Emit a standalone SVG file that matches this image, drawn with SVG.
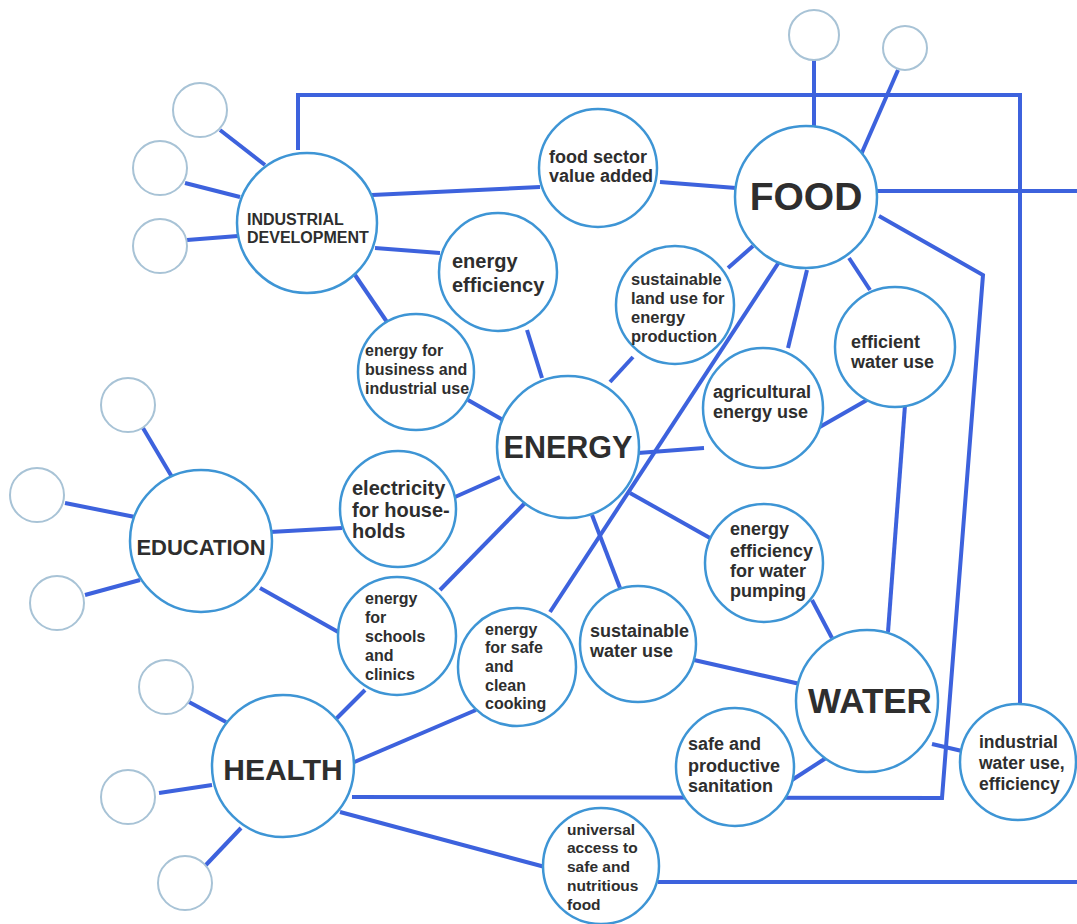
<svg xmlns="http://www.w3.org/2000/svg" width="1077" height="924" viewBox="0 0 1077 924">
<style>
.ln{stroke:#3d62dd;stroke-width:4;fill:none}
.nd{fill:#fff;stroke:#3e95d5;stroke-width:2.5}
.sm{fill:#fff;stroke:#a8c3d6;stroke-width:2}
.t{font-family:"Liberation Sans",Arial,sans-serif;font-weight:bold;fill:#2e2e2e}
.c{text-anchor:middle}
</style>
<rect width="1077" height="924" fill="#fff"/>
<g id="connectors">
<line class="ln" x1="220" y1="130" x2="265" y2="165"/>
<line class="ln" x1="185" y1="183" x2="240" y2="197"/>
<line class="ln" x1="187" y1="240" x2="238" y2="236"/>
<line class="ln" x1="814" y1="60" x2="814" y2="127"/>
<line class="ln" x1="898" y1="70" x2="860" y2="157"/>
<line class="ln" x1="143" y1="428" x2="172" y2="477"/>
<line class="ln" x1="65" y1="503" x2="135" y2="517"/>
<line class="ln" x1="85" y1="595" x2="140" y2="580"/>
<line class="ln" x1="189" y1="702" x2="226" y2="722"/>
<line class="ln" x1="159" y1="793" x2="212" y2="785"/>
<line class="ln" x1="204" y1="867" x2="241" y2="828"/>
<line class="ln" x1="372" y1="195" x2="540" y2="187"/>
<line class="ln" x1="660" y1="182" x2="736" y2="188"/>
<line class="ln" x1="375" y1="248" x2="440" y2="253"/>
<line class="ln" x1="355" y1="275" x2="387" y2="322"/>
<line class="ln" x1="527" y1="330" x2="542" y2="378"/>
<line class="ln" x1="468" y1="400" x2="503" y2="420"/>
<line class="ln" x1="633" y1="357" x2="610" y2="382"/>
<line class="ln" x1="753" y1="246" x2="728" y2="268"/>
<line class="ln" x1="807" y1="270" x2="788" y2="348"/>
<line class="ln" x1="849" y1="258" x2="870" y2="290"/>
<line class="ln" x1="867" y1="400" x2="818" y2="428"/>
<line class="ln" x1="638" y1="453" x2="704" y2="448"/>
<line class="ln" x1="455" y1="497" x2="500" y2="477"/>
<line class="ln" x1="270" y1="532" x2="342" y2="528"/>
<line class="ln" x1="260" y1="588" x2="340" y2="633"/>
<line class="ln" x1="440" y1="590" x2="525" y2="503"/>
<line class="ln" x1="365" y1="690" x2="335" y2="720"/>
<line class="ln" x1="352" y1="763" x2="476" y2="710"/>
<line class="ln" x1="340" y1="812" x2="545" y2="867"/>
<line class="ln" x1="592" y1="515" x2="620" y2="588"/>
<line class="ln" x1="630" y1="493" x2="710" y2="538"/>
<line class="ln" x1="779" y1="262" x2="550" y2="612"/>
<line class="ln" x1="694" y1="660" x2="800" y2="684"/>
<line class="ln" x1="812" y1="600" x2="832" y2="638"/>
<line class="ln" x1="905" y1="405" x2="888" y2="632"/>
<line class="ln" x1="826" y1="758" x2="792" y2="780"/>
<line class="ln" x1="932" y1="744" x2="962" y2="751"/>
<polyline class="ln" points="879,216 983,275 942,798 352,797"/>
<polyline class="ln" points="298,150 298,95 1020,95 1020,705"/>
<line class="ln" x1="877" y1="191" x2="1077" y2="191"/>
<line class="ln" x1="658" y1="882" x2="1077" y2="882"/>
</g>
<g id="small-circles">
<circle class="sm" cx="200" cy="110" r="27"/>
<circle class="sm" cx="160" cy="168" r="27"/>
<circle class="sm" cx="160" cy="246" r="27"/>
<circle class="sm" cx="814" cy="35" r="25"/>
<circle class="sm" cx="905" cy="48" r="22"/>
<circle class="sm" cx="128" cy="405" r="27"/>
<circle class="sm" cx="37" cy="495" r="27"/>
<circle class="sm" cx="57" cy="603" r="27"/>
<circle class="sm" cx="166" cy="687" r="27"/>
<circle class="sm" cx="128" cy="797" r="27"/>
<circle class="sm" cx="185" cy="883" r="27"/>
</g>
<g id="industrial-development">
<circle class="nd" cx="307" cy="223" r="70"/>
<text class="t" font-size="16" x="247" y="225">INDUSTRIAL</text>
<text class="t" font-size="16" x="247" y="243">DEVELOPMENT</text>
</g>
<g id="food-sector-value-added">
<circle class="nd" cx="598" cy="168" r="59"/>
<text class="t" font-size="18" x="549" y="163">food sector</text>
<text class="t" font-size="18" x="549" y="182">value added</text>
</g>
<g id="food">
<circle class="nd" cx="806" cy="197" r="71"/>
<text class="t c" font-size="39" x="806" y="210">FOOD</text>
</g>
<g id="energy-efficiency">
<circle class="nd" cx="498" cy="272" r="59"/>
<text class="t" font-size="20" x="452" y="268">energy</text>
<text class="t" font-size="20" x="452" y="292">efficiency</text>
</g>
<g id="energy-business">
<circle class="nd" cx="416" cy="372" r="58"/>
<text class="t" font-size="16" x="365" y="356">energy for</text>
<text class="t" font-size="16" x="365" y="375">business and</text>
<text class="t" font-size="16" x="365" y="394">industrial use</text>
</g>
<g id="land-use">
<circle class="nd" cx="675" cy="305" r="59"/>
<text class="t" font-size="16.5" x="631" y="285">sustainable</text>
<text class="t" font-size="16.5" x="631" y="304">land use for</text>
<text class="t" font-size="16.5" x="631" y="323">energy</text>
<text class="t" font-size="16.5" x="631" y="342">production</text>
</g>
<g id="agricultural-energy">
<circle class="nd" cx="763" cy="408" r="60"/>
<text class="t" font-size="18" x="713" y="398">agricultural</text>
<text class="t" font-size="18" x="713" y="418">energy use</text>
</g>
<g id="efficient-water">
<circle class="nd" cx="895" cy="347" r="60"/>
<text class="t" font-size="18" x="851" y="348">efficient</text>
<text class="t" font-size="18" x="851" y="368">water use</text>
</g>
<g id="energy">
<circle class="nd" cx="568" cy="447" r="71"/>
<text class="t c" font-size="30.5" x="568" y="458">ENERGY</text>
</g>
<g id="electricity">
<circle class="nd" cx="398" cy="509" r="58"/>
<text class="t" font-size="20" x="352" y="495">electricity</text>
<text class="t" font-size="20" x="352" y="517">for house-</text>
<text class="t" font-size="20" x="352" y="538">holds</text>
</g>
<g id="education">
<circle class="nd" cx="201" cy="541" r="71"/>
<text class="t c" font-size="22" x="201" y="555">EDUCATION</text>
</g>
<g id="schools-clinics">
<circle class="nd" cx="397" cy="636" r="59"/>
<text class="t" font-size="16" x="365" y="604">energy</text>
<text class="t" font-size="16" x="365" y="623">for</text>
<text class="t" font-size="16" x="365" y="642">schools</text>
<text class="t" font-size="16" x="365" y="661">and</text>
<text class="t" font-size="16" x="365" y="680">clinics</text>
</g>
<g id="clean-cooking">
<circle class="nd" cx="517" cy="667" r="59"/>
<text class="t" font-size="16" x="485" y="635">energy</text>
<text class="t" font-size="16" x="485" y="653">for safe</text>
<text class="t" font-size="16" x="485" y="672">and</text>
<text class="t" font-size="16" x="485" y="691">clean</text>
<text class="t" font-size="16" x="485" y="709">cooking</text>
</g>
<g id="sustainable-water">
<circle class="nd" cx="638" cy="644" r="58"/>
<text class="t" font-size="18" x="590" y="637">sustainable</text>
<text class="t" font-size="18" x="590" y="657">water use</text>
</g>
<g id="water-pumping">
<circle class="nd" cx="764" cy="563" r="59"/>
<text class="t" font-size="18" x="730" y="535">energy</text>
<text class="t" font-size="18" x="730" y="557">efficiency</text>
<text class="t" font-size="18" x="730" y="577">for water</text>
<text class="t" font-size="18" x="730" y="597">pumping</text>
</g>
<g id="water">
<circle class="nd" cx="867" cy="701" r="71"/>
<text class="t c" font-size="35" x="870" y="713">WATER</text>
</g>
<g id="sanitation">
<circle class="nd" cx="735" cy="767" r="59"/>
<text class="t" font-size="18" x="688" y="750">safe and</text>
<text class="t" font-size="18" x="688" y="772">productive</text>
<text class="t" font-size="18" x="688" y="792">sanitation</text>
</g>
<g id="industrial-water">
<circle class="nd" cx="1018" cy="762" r="58"/>
<text class="t" font-size="17.5" x="979" y="748">industrial</text>
<text class="t" font-size="17.5" x="979" y="769">water use,</text>
<text class="t" font-size="17.5" x="979" y="790">efficiency</text>
</g>
<g id="universal-access">
<circle class="nd" cx="601" cy="866" r="58"/>
<text class="t" font-size="15.5" x="567" y="835">universal</text>
<text class="t" font-size="15.5" x="567" y="853">access to</text>
<text class="t" font-size="15.5" x="567" y="872">safe and</text>
<text class="t" font-size="15.5" x="567" y="891">nutritious</text>
<text class="t" font-size="15.5" x="567" y="910">food</text>
</g>
<g id="health">
<circle class="nd" cx="283" cy="766" r="71"/>
<text class="t c" font-size="30" x="283" y="780">HEALTH</text>
</g>
</svg>
